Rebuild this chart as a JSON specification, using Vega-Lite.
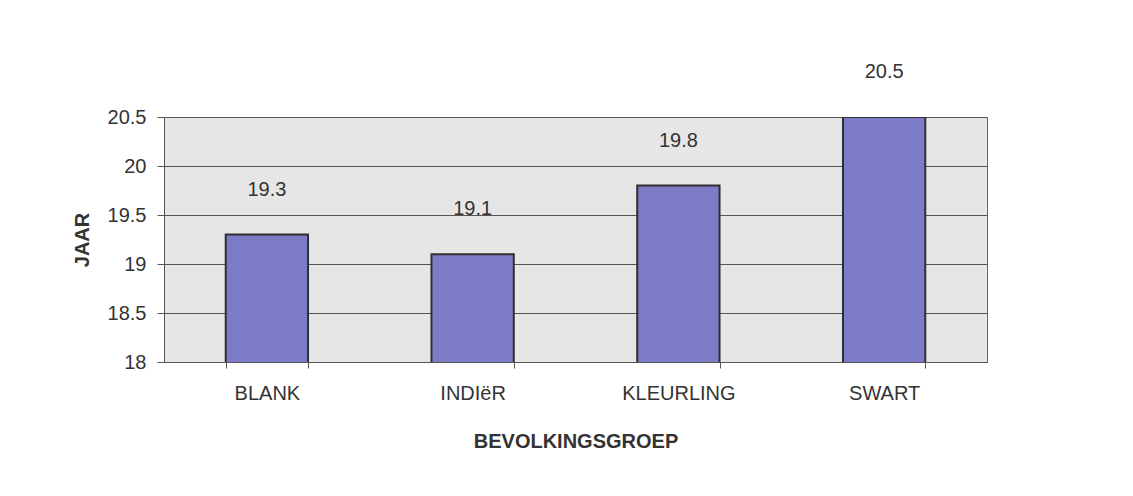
{
  "$schema": "https://vega.github.io/schema/vega-lite/v6.json",
  "width": 823,
  "height": 245,
  "autosize": {"type": "none"},
  "padding": {"left": 164, "top": 117, "right": 146, "bottom": 134},
  "background": "#ffffff",
  "data": {
    "values": [
      {"groep": "BLANK", "jaar": 19.3},
      {"groep": "INDIëR", "jaar": 19.1},
      {"groep": "KLEURLING", "jaar": 19.8},
      {"groep": "SWART", "jaar": 20.5}
    ]
  },
  "encoding": {
    "x": {
      "field": "groep",
      "type": "nominal",
      "sort": null,
      "scale": {"paddingInner": 0.6, "paddingOuter": 0.3},
      "axis": {
        "title": "BEVOLKINGSGROEP",
        "labelAngle": 0,
        "tickBand": "extent",
        "tickSize": 6,
        "labelPadding": 15,
        "titlePadding": 28,
        "domainColor": "#555555",
        "tickColor": "#555555"
      }
    },
    "y": {
      "field": "jaar",
      "type": "quantitative",
      "scale": {"domain": [18, 20.5], "zero": false, "nice": false},
      "axis": {
        "title": "JAAR",
        "values": [18, 18.5, 19, 19.5, 20, 20.5],
        "format": "~r",
        "tickSize": 7,
        "labelPadding": 11,
        "titlePadding": 15,
        "grid": true,
        "gridColor": "#555555",
        "gridOpacity": 1,
        "gridWidth": 1,
        "domainColor": "#555555",
        "tickColor": "#555555"
      }
    }
  },
  "layer": [
    {
      "mark": {"type": "bar", "clip": true, "fill": "#7e7bc6", "stroke": "#2f2f2f", "strokeWidth": 2}
    },
    {
      "mark": {"type": "text", "baseline": "middle", "dy": -45, "font": "Liberation Sans", "fontSize": 20, "color": "#333333"},
      "encoding": {"text": {"field": "jaar", "type": "quantitative", "format": ".1f"}}
    }
  ],
  "config": {
    "view": {"fill": "#e6e6e6", "stroke": "#666666", "strokeWidth": 1},
    "axis": {
      "labelFont": "Liberation Sans",
      "labelFontSize": 20,
      "labelColor": "#333333",
      "titleFont": "Liberation Sans",
      "titleFontSize": 20,
      "titleFontWeight": "bold",
      "titleColor": "#333333"
    }
  }
}
